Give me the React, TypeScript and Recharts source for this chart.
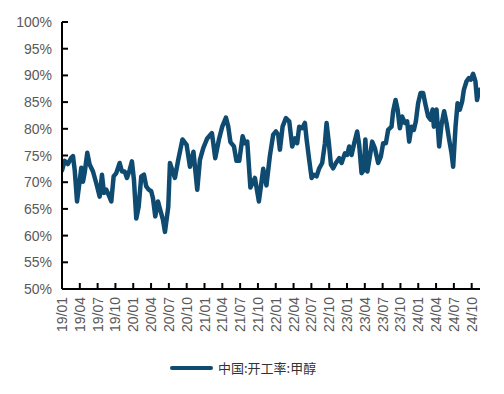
import React from "react";
import { LineChart, Line, XAxis, YAxis } from "recharts";

// time in months since 2019/01, and operating rate (%)
const months = [
  0.0, 0.45, 1.0, 1.57, 1.85, 2.14, 2.53, 2.86, 3.25, 3.54, 3.82, 4.26, 4.66, 5.22, 5.77, 6.35, 6.73, 7.07, 7.46, 7.86,
  8.3, 8.7, 9.14, 9.71, 10.1, 10.56, 10.94, 11.4, 11.78, 12.12, 12.51, 12.91, 13.35, 13.8, 14.19, 14.6, 15.03, 15.32, 15.71, 16.16,
  16.55, 17.0, 17.34, 17.9, 18.18, 19.02, 19.58, 20.29, 20.99, 21.55, 22.14, 22.78, 23.23, 23.79, 24.46, 25.25, 25.81, 26.43, 26.99, 27.61,
  28.0, 28.37, 28.96, 29.38, 29.85, 30.42, 30.81, 31.2, 31.73, 32.49, 33.16, 33.89, 34.43, 35.02, 35.57, 36.03, 36.41, 36.7, 37.15, 37.71,
  38.27, 38.77, 39.23, 39.61, 39.95, 40.45, 40.91, 41.2, 41.63, 42.04, 42.42, 42.88, 43.32, 43.82, 44.28, 44.56, 44.95, 45.29, 45.67, 46.13,
  46.68, 47.09, 47.64, 48.03, 48.37, 48.77, 49.21, 49.71, 50.05, 50.45, 50.84, 51.09, 51.43, 51.85, 52.24, 52.69, 53.25, 53.7, 54.09, 54.55,
  54.93, 55.5, 55.77, 56.18, 56.52, 56.9, 57.29, 57.74, 58.13, 58.47, 58.87, 59.26, 59.6, 59.98, 60.39, 60.82, 61.28, 61.67, 62.07, 62.41,
  62.63, 63.08, 63.52, 63.92, 64.36, 64.76, 65.2, 65.61, 65.88, 66.28, 66.62, 67.0, 67.39, 67.68, 68.13, 68.52, 68.86, 69.23, 69.63, 69.9,
  70.25,
];

const rates = [
  72.2, 74.0, 73.4, 74.6, 74.9, 72.3, 66.4, 69.2, 72.7, 70.1, 71.8, 75.5, 73.3, 72.0, 69.8, 67.3, 71.4, 68.0, 68.6, 67.6,
  66.4, 71.1, 71.7, 73.6, 72.0, 72.0, 70.8, 72.3, 73.9, 70.4, 63.2, 65.4, 71.1, 71.4, 69.2, 68.6, 68.3, 67.0, 63.6, 66.4,
  64.8, 63.0, 60.7, 65.4, 73.6, 70.8, 74.2, 78.0, 77.0, 72.9, 75.7, 68.6, 74.2, 76.4, 78.2, 79.2, 74.5, 78.0, 80.4, 82.1,
  80.4, 77.5, 76.7, 74.0, 74.0, 78.6, 77.3, 77.6, 69.0, 70.8, 66.4, 72.5, 69.4, 75.0, 78.9, 79.5, 78.9, 76.1, 80.4, 82.0,
  81.4, 76.7, 78.2, 77.3, 80.4, 80.1, 81.1, 78.0, 74.2, 70.8, 71.4, 71.1, 72.6, 73.6, 77.3, 81.1, 77.3, 73.3, 72.6, 73.6,
  74.5, 73.6, 75.4, 75.1, 76.7, 75.1, 77.3, 79.5, 77.0, 71.7, 72.3, 78.0, 72.0, 74.8, 77.6, 76.4, 73.6, 74.8, 77.3, 77.3,
  79.8, 80.4, 83.3, 85.4, 83.6, 80.1, 82.3, 81.1, 81.4, 77.6, 80.4, 79.8, 81.4, 84.8, 86.7, 86.7, 84.2, 82.3, 81.7, 83.6,
  80.4, 83.6, 76.7, 80.8, 83.3, 81.1, 78.0, 75.4, 72.9, 80.4, 84.8, 83.6, 85.1, 87.3, 88.9, 89.5, 89.2, 90.3, 88.9, 85.4,
  87.3,
];

const xTicks = [0, 3, 6, 9, 12, 15, 18, 21, 24, 27, 30, 33, 36, 39, 42, 45, 48, 51, 54, 57, 60, 63, 66, 69];
const xTickLabels = [
  "19/01", "19/04", "19/07", "19/10", "20/01", "20/04", "20/07", "20/10",
  "21/01", "21/04", "21/07", "21/10", "22/01", "22/04", "22/07", "22/10",
  "23/01", "23/04", "23/07", "23/10", "24/01", "24/04", "24/07", "24/10",
];
const yTicks = [50, 55, 60, 65, 70, 75, 80, 85, 90, 95, 100];
const seriesName = "中国:开工率:甲醇";

const data = months.map((m, i) => ({ m, v: rates[i] }));

const LINE_COLOR = "#0f4b70";
const LABEL_COLOR = "#595959";
const FONT = "Arial, 'Liberation Sans', sans-serif";

const XTick = (props: any) => {
  const { x, y, payload } = props;
  const idx = xTicks.indexOf(payload.value);
  const label = idx >= 0 ? xTickLabels[idx] : "";
  return (
    <g transform={`translate(${x},${y})`}>
      <line x1={0} y1={0} x2={0} y2={-6} stroke="#000" strokeWidth={2} />
      <text
        transform="rotate(-90)"
        x={-8}
        y={0}
        textAnchor="end"
        dominantBaseline="central"
        fontSize={14}
        fontFamily={FONT}
        fill={LABEL_COLOR}
      >
        {label}
      </text>
    </g>
  );
};

const YTick = (props: any) => {
  const { x, y, payload } = props;
  return (
    <g transform={`translate(${x},${y})`}>
      <line x1={0} y1={0} x2={6} y2={0} stroke="#000" strokeWidth={2} />
      <text
        x={-10}
        y={0}
        textAnchor="end"
        dominantBaseline="central"
        fontSize={14}
        fontFamily={FONT}
        fill={LABEL_COLOR}
      >
        {`${payload.value}%`}
      </text>
    </g>
  );
};

export default function App() {
  return (
    <div style={{ position: "absolute", left: 0, top: 0, width: 504, height: 394, background: "#fff" }}>
      <LineChart width={504} height={394} data={data} margin={{ top: 22, right: 24, bottom: 0, left: 0 }}>
        <XAxis
          dataKey="m"
          type="number"
          domain={[0, 70.4]}
          ticks={xTicks}
          interval={0}
          tick={<XTick />}
          tickLine={false}
          tickSize={0}
          tickMargin={0}
          axisLine={{ stroke: "#000", strokeWidth: 2 }}
          height={105}
          allowDataOverflow
        />
        <YAxis
          type="number"
          domain={[50, 100]}
          ticks={yTicks}
          interval={0}
          tick={<YTick />}
          tickLine={false}
          tickSize={0}
          tickMargin={0}
          axisLine={{ stroke: "#000", strokeWidth: 2 }}
          width={62}
        />
        <Line
          type="linear"
          dataKey="v"
          stroke={LINE_COLOR}
          strokeWidth={4.5}
          strokeLinejoin="round"
          strokeLinecap="round"
          dot={false}
          isAnimationActive={false}
        />
      </LineChart>
      <div
        style={{
          position: "absolute",
          left: 170,
          top: 358,
          display: "flex",
          alignItems: "center",
          fontFamily: "'Noto Sans CJK SC', sans-serif",
          fontSize: 13,
          color: "#333",
          whiteSpace: "nowrap",
        }}
      >
        <span style={{ display: "inline-block", width: 43, height: 4, background: LINE_COLOR, borderRadius: 2, marginRight: 5 }} />
        <span>{seriesName}</span>
      </div>
    </div>
  );
}
